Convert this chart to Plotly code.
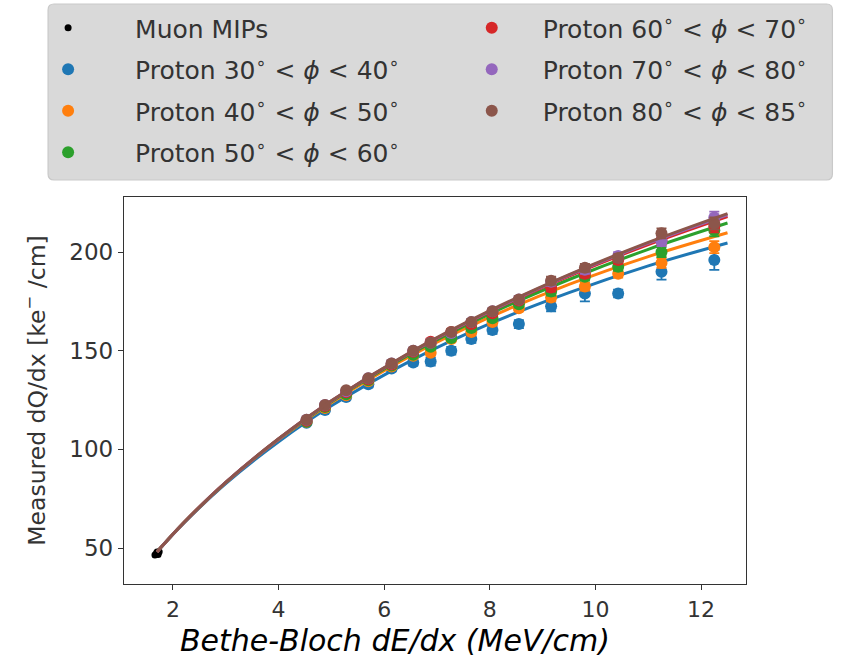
import plotly.graph_objects as go

# Bethe-Bloch dE/dx bin centres (MeV/cm) shared by all proton angle bins
dedx_bins = [4.53, 4.88, 5.28, 5.70, 6.14, 6.55, 6.88, 7.27, 7.65, 8.05,
             8.55, 9.16, 9.80, 10.43, 11.25, 12.25]

# Measured dQ/dx (ke-/cm) per angle bin
dqdx_30_40 = [113.5, 120.0, 126.5, 133.0, 141.0, 144.0, 144.5, 150.0, 156.0, 160.5,
              163.5, 172.5, 179.0, 179.0, 190.0, 196.0]
dqdx_40_50 = [114.0, 121.0, 127.5, 134.5, 142.0, 147.5, 149.0, 156.0, 159.5, 164.5,
              171.5, 177.0, 182.5, 189.0, 194.5, 202.5]
dqdx_50_60 = [114.0, 121.5, 128.0, 135.0, 142.5, 148.0, 152.0, 156.5, 161.5, 166.5,
              173.5, 180.0, 187.5, 192.5, 200.0, 211.0]
dqdx_60_70 = [114.5, 122.0, 129.0, 135.5, 143.0, 149.5, 154.5, 159.5, 163.5, 169.0,
              175.5, 182.0, 189.0, 196.0, 206.0, 213.0]
dqdx_70_80 = [115.0, 122.5, 129.5, 136.0, 143.5, 150.0, 154.0, 159.0, 164.5, 170.0,
              176.0, 185.0, 191.0, 198.0, 205.5, 217.5]
dqdx_80_85 = [115.0, 122.5, 130.0, 136.0, 143.5, 150.0, 154.0, 159.5, 164.5, 170.0,
              176.0, 185.5, 192.0, 197.0, 209.5, 214.5]

# Statistical uncertainties
err_30_40 = [1.0, 1.0, 1.2, 1.5, 1.5, 1.5, 2.0, 2.0, 2.0, 2.0, 2.0, 2.5, 4.0, 2.0, 4.0, 5.0]
err_40_50 = [1.0, 1.0, 1.0, 1.2, 1.2, 1.2, 1.5, 1.5, 1.5, 1.5, 1.5, 2.0, 2.0, 2.0, 2.5, 3.0]
err_50_60 = [1.0, 1.0, 1.0, 1.2, 1.2, 1.2, 1.5, 1.5, 1.5, 1.5, 1.5, 2.0, 2.0, 2.0, 2.5, 3.0]
err_60_70 = [1.0, 1.0, 1.0, 1.2, 1.2, 1.2, 1.5, 1.5, 1.5, 1.5, 1.5, 2.0, 2.0, 2.0, 2.5, 3.0]
err_70_80 = [1.0, 1.0, 1.0, 1.2, 1.2, 1.2, 1.5, 1.5, 1.5, 1.5, 1.5, 2.0, 2.0, 2.0, 2.5, 3.0]
err_80_85 = [1.0, 1.0, 1.0, 1.2, 1.2, 1.2, 1.5, 1.5, 1.5, 1.5, 1.5, 2.0, 2.0, 2.0, 2.5, 3.0]

# Muon MIP reference points (one per angle bin)
muon_dedx = [1.66, 1.68, 1.70, 1.71, 1.72, 1.74]
muon_dqdx = [46.5, 47.0, 48.0, 47.5, 46.8, 48.2]

# Recombination fit curves evaluated on a coarse dE/dx grid
fit_dedx = [1.7, 2.2, 3.0, 4.0, 5.0, 6.5, 8.0, 9.5, 11.0, 12.5]
fit_30_40 = [48.1, 62.5, 82.7, 103.9, 122.1, 144.9, 163.7, 179.4, 193.0, 204.6]
fit_40_50 = [48.1, 62.7, 83.2, 105.0, 123.7, 147.4, 167.0, 183.6, 197.7, 209.8]
fit_50_60 = [48.1, 62.7, 83.2, 105.2, 124.2, 148.4, 168.7, 186.1, 201.4, 214.7]
fit_60_70 = [48.1, 62.7, 83.3, 105.3, 124.5, 149.0, 169.8, 187.8, 203.8, 218.0]
fit_70_80 = [48.1, 62.7, 83.3, 105.3, 124.5, 149.1, 170.0, 188.3, 204.5, 218.9]
fit_80_85 = [48.1, 62.7, 83.3, 105.4, 124.6, 149.3, 170.3, 188.6, 204.9, 219.5]

labels = ["30", "40", "50", "60", "70", "80", "85"]
colors = ["#1f77b4", "#ff7f0e", "#2ca02c", "#d62728", "#9467bd", "#8c564b"]

series = [
    (dqdx_30_40, err_30_40, fit_30_40),
    (dqdx_40_50, err_40_50, fit_40_50),
    (dqdx_50_60, err_50_60, fit_50_60),
    (dqdx_60_70, err_60_70, fit_60_70),
    (dqdx_70_80, err_70_80, fit_70_80),
    (dqdx_80_85, err_80_85, fit_80_85),
]

fig = go.Figure()

fig.add_trace(go.Scatter(
    x=muon_dedx, y=muon_dqdx, mode="markers", name="Muon MIPs",
    marker=dict(color="black", size=7), legend="legend", legendgroup="mu",
))

for i, (vals, errs, fit) in enumerate(series):
    lo, hi = labels[i], labels[i + 1]
    name = (f"Proton {lo}<sup>∘</sup> &lt; <i>ϕ</i> &lt; {hi}<sup>∘</sup>")
    leg = "legend" if i < 3 else "legend2"
    fig.add_trace(go.Scatter(
        x=dedx_bins, y=vals, mode="markers", name=name,
        marker=dict(color=colors[i], size=12),
        error_y=dict(type="data", array=errs, color=colors[i], thickness=1.8, width=5),
        legend=leg, legendgroup=f"p{i}",
    ))
    fig.add_trace(go.Scatter(
        x=fit_dedx, y=fit, mode="lines", line=dict(color=colors[i], width=3, shape="spline"),
        showlegend=False, hoverinfo="skip",
    ))

# plot area in pixels: x 124..746.5, y 197..584
PW, PH = 622.5, 387.0
def px(xp):
    return (xp - 124) / PW
def py(yp):
    return (584 - yp) / PH

# rounded grey legend backdrop
x0, x1, y0, y1 = px(48), px(833), py(180), py(4)
rx, ry = 6 / PW, 6 / PH
path = (f"M {x0+rx},{y1} L {x1-rx},{y1} Q {x1},{y1} {x1},{y1-ry} "
        f"L {x1},{y0+ry} Q {x1},{y0} {x1-rx},{y0} L {x0+rx},{y0} "
        f"Q {x0},{y0} {x0},{y0+ry} L {x0},{y1-ry} Q {x0},{y1} {x0+rx},{y1} Z")
fig.add_shape(type="path", path=path, xref="paper", yref="paper",
              fillcolor="#d9d9d9", line=dict(color="#c9c9c9", width=1.2), layer="below")

leg_font = dict(family="DejaVu Sans", size=25, color="#333333")
fig.update_layout(
    width=843, height=657,
    margin=dict(l=124, r=96.5, t=197, b=73, autoexpand=False),
    paper_bgcolor="white", plot_bgcolor="white",
    font=dict(family="DejaVu Sans", color="#333333"),
    legend=dict(x=px(1), y=py(5), xanchor="left", yanchor="top",
                bgcolor="rgba(0,0,0,0)", font=leg_font, tracegroupgap=6,
                itemwidth=124),
    legend2=dict(x=px(441), y=py(5), xanchor="left", yanchor="top",
                 bgcolor="rgba(0,0,0,0)", font=leg_font, tracegroupgap=6,
                 itemwidth=92),
    xaxis=dict(range=[1.074, 12.85], tickvals=[2, 4, 6, 8, 10, 12],
               ticks="outside", ticklen=5, tickwidth=1.3, tickcolor="#333333",
               showline=True, mirror=True, linecolor="#333333", linewidth=1.4,
               showgrid=False, zeroline=False,
               tickfont=dict(family="DejaVu Sans", size=22, color="#333333")),
    yaxis=dict(range=[31.8, 227.9], tickvals=[50, 100, 150, 200],
               ticks="outside", ticklen=5, tickwidth=1.3, tickcolor="#333333",
               showline=True, mirror=True, linecolor="#333333", linewidth=1.4,
               showgrid=False, zeroline=False,
               tickfont=dict(family="DejaVu Sans", size=23, color="#333333"),
               title=dict(text="Measured dQ/dx [ke<sup>−</sup> /cm]",
                          font=dict(family="DejaVu Sans", size=23.5, color="#333333"),
                          standoff=17)),
    showlegend=True,
)

fig.add_annotation(
    text="Bethe-Bloch dE/dx (MeV/cm)", xref="paper", yref="paper",
    x=px(395), y=py(640), xanchor="center", yanchor="middle", showarrow=False,
    font=dict(family="DejaVu Sans", size=30, color="black", style="italic"),
)

fig.write_html("out.html")
